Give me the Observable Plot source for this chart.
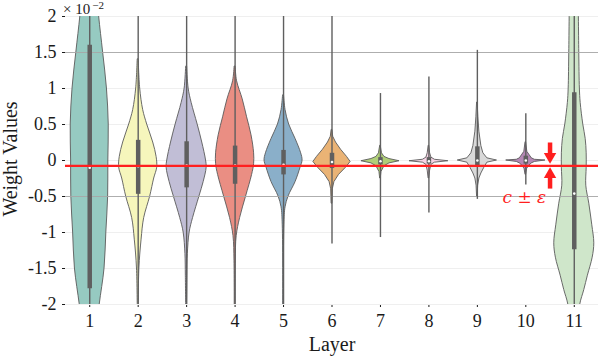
<!DOCTYPE html>
<html><head><meta charset="utf-8">
<script src="https://cdn.jsdelivr.net/npm/d3@7"></script>
<script src="https://cdn.jsdelivr.net/npm/@observablehq/plot@0.6"></script>
<style>
html,body{margin:0;padding:0;background:#fff;overflow:hidden}
#chart svg text.lbl { font-family: 'Liberation Serif', serif; fill: #1a1a1a; }
</style>
</head><body><div id="chart"></div>
<script>
// ---- data (values in units of 1e-2) ----
const layers = [1,2,3,4,5,6,7,8,9,10,11];
const palette = ["#8dd3c7","#ffffb3","#bebada","#fb8072","#80b1d3","#fdb462","#b3de69","#fccde5","#d9d9d9","#bc80bd","#ccebc5"];
// violin profiles: [value, relative density]
const profile1 = [[2.3,0.38],[2.0,0.47],[1.5,0.67],[1.0,0.86],[0.5,0.95],[0.0,0.93],[-0.5,0.92],[-1.0,0.83],[-1.5,0.74],[-2.0,0.5],[-2.3,0.38]];
const profile2 = [[1.4,0.025],[1.0,0.1],[0.7,0.25],[0.5,0.45],[0.25,0.75],[0.05,0.92],[-0.1,0.95],[-0.25,0.8],[-0.5,0.6],[-0.8,0.3],[-1.1,0.17],[-1.5,0.06],[-2.1,0.02]];
const profile3 = [[1.3,0.025],[1.0,0.1],[0.8,0.25],[0.5,0.55],[0.25,0.78],[0.0,0.97],[-0.1,1.0],[-0.3,0.85],[-0.5,0.64],[-0.8,0.32],[-1.0,0.15],[-1.3,0.06],[-1.6,0.04],[-2.1,0.02]];
const profile4 = [[1.3,0.025],[1.1,0.1],[0.85,0.38],[0.6,0.6],[0.35,0.82],[0.1,0.95],[-0.05,0.95],[-0.2,0.85],[-0.5,0.55],[-0.8,0.25],[-1.05,0.08],[-1.4,0.03],[-2.1,0.02]];
const profile5 = [[0.9,0.025],[0.7,0.1],[0.5,0.28],[0.3,0.6],[0.1,0.88],[0.0,0.95],[-0.1,0.85],[-0.3,0.6],[-0.5,0.25],[-0.65,0.1],[-0.9,0.04],[-2.1,0.02]];
const profile6 = [[0.42,0.02],[0.33,0.06],[0.25,0.2],[0.15,0.45],[0.05,0.75],[-0.02,0.93],[-0.1,0.7],[-0.2,0.35],[-0.3,0.12],[-0.4,0.04],[-0.6,0.02]];
const profile7 = [[0.2,0.015],[0.1,0.075],[0.05,0.2],[0.02,0.45],[-0.01,0.95],[-0.04,0.45],[-0.08,0.2],[-0.16,0.05],[-0.25,0.015]];
const profile8 = [[0.2,0.015],[0.1,0.06],[0.04,0.125],[0.01,0.3],[-0.01,0.97],[-0.03,0.3],[-0.06,0.125],[-0.14,0.06],[-0.25,0.015]];
const profile9 = [[0.8,0.015],[0.6,0.05],[0.4,0.1],[0.2,0.2],[0.1,0.3],[0.03,0.5],[0.0,0.98],[-0.03,0.5],[-0.1,0.35],[-0.18,0.2],[-0.25,0.1],[-0.35,0.04],[-0.5,0.015]];
const profile10 = [[0.25,0.015],[0.12,0.075],[0.07,0.2],[0.03,0.3],[0.01,0.45],[0.0,0.98],[-0.02,0.45],[-0.04,0.3],[-0.08,0.15],[-0.12,0.06],[-0.2,0.015]];
const profile11 = [[2.3,0.22],[1.5,0.25],[1.0,0.28],[0.8,0.32],[0.5,0.45],[0.3,0.57],[0.1,0.62],[-0.1,0.62],[-0.35,0.6],[-0.6,0.75],[-0.9,0.9],[-1.15,1.0],[-1.35,0.92],[-1.6,0.68],[-1.8,0.5],[-2.0,0.3],[-2.3,0.2]];
const profiles = [profile1,profile2,profile3,profile4,profile5,profile6,profile7,profile8,profile9,profile10,profile11];
const boxHigh = [1.6,0.28,0.26,0.2,0.14,0.1,0.04,0.04,0.19,0.06,0.94];
const boxLow = [-1.78,-0.47,-0.38,-0.33,-0.2,-0.11,-0.06,-0.05,-0.08,-0.05,-1.24];
const medians = [-0.1,-0.08,-0.07,-0.07,-0.06,-0.02,-0.01,-0.01,0.0,0.0,-0.46];
const whiskerHigh = [2.5,2.5,2.5,2.5,2.5,2.5,0.93,1.16,1.53,0.65,2.5];
const whiskerLow = [-2.5,-2.5,-2.5,-2.5,-2.5,-1.16,-1.07,-0.73,-0.54,-0.34,-2.5];
const yTicks = [-2,-1.5,-1,-0.5,0,0.5,1,1.5,2];
const yTickLabels = ["-2","-1.5","-1","-0.5","0","0.5","1","1.5","2"];
const majorGrid = [1.5,-0.5];
const thresholdC = [-0.075];
const arrowX = 10.5;
const arrowDown = [0.25, 0.054];   // shaft start, head centre
const arrowUp = [-0.39, -0.193];
const annotation = {x: 9.97, y: -0.52, text: "c ± ε"};

// ---- build ----
const halfMax = 0.413;
const fills = palette.map(c => { const h = d3.hsl(c); h.s *= 0.75; return h.formatHex(); });
const sharp = [false,false,false,false,false,true,true,true,true,true,false];
const rows = layers.map((l, i) => ({layer: l, q1: boxLow[i], q3: boxHigh[i], med: medians[i], lo: whiskerLow[i], hi: whiskerHigh[i]}));

const violinMarks = layers.map((l, i) => Plot.areaX(
  profiles[i].map(([v, d]) => ({layer: l, v, d})),
  {y: "v", x1: r => r.layer - r.d * halfMax, x2: r => r.layer + r.d * halfMax,
   fill: fills[i], stroke: "#5a5a5a", strokeWidth: 0.9, curve: sharp[i] ? "linear" : "catmull-rom", clip: true}
));

const plot = Plot.plot({
  width: 598, height: 358,
  marginLeft: 65, marginRight: 0, marginTop: 16, marginBottom: 54,
  style: "font-family: 'Liberation Serif', serif; font-size: 18px; background: white; color: #1a1a1a;",
  x: {domain: [0.5, 11.5], ticks: layers, tickFormat: d => String(d), tickSize: 3, tickPadding: 7, label: null},
  y: {domain: [-2, 2], ticks: yTicks, tickFormat: d => yTickLabels[yTicks.indexOf(d)], tickSize: 3, tickPadding: 6, label: null},
  marks: [
    Plot.ruleY(yTicks, {stroke: "#efefef", strokeWidth: 1}),
    ...violinMarks,
    Plot.ruleY(majorGrid, {stroke: "#a6a6a6", strokeWidth: 1, strokeOpacity: 0.9}),
    Plot.ruleX(rows, {x: "layer", y1: "lo", y2: "hi", stroke: "#5f5f5f", strokeWidth: 1.4, clip: true}),
    Plot.ruleX(rows, {x: "layer", y1: "q1", y2: "q3", stroke: "#5f5f5f", strokeWidth: 4.5, clip: true}),
    Plot.dot(rows, {x: "layer", y: "med", r: 1.3, fill: "white", stroke: null}),
    Plot.ruleY(thresholdC, {stroke: "#ff1f1f", strokeWidth: 2.2}),
    Plot.link([{a: arrowDown[0], b: arrowDown[1]}, {a: arrowUp[0], b: arrowUp[1]}],
      {x1: () => arrowX, x2: () => arrowX, y1: "a", y2: "b", stroke: "#ff1f1f", strokeWidth: 4.5}),
    Plot.dot([arrowDown[1]], {x: () => arrowX, y: d => d, symbol: "triangle", r: 4.6, fill: "#ff1f1f", stroke: null, rotate: 180}),
    Plot.dot([arrowUp[1]], {x: () => arrowX, y: d => d, symbol: "triangle", r: 4.6, fill: "#ff1f1f", stroke: null}),
    Plot.text([annotation], {x: "x", y: "y", text: "text", fill: "#ff1f1f", fontStyle: "italic", fontSize: 17, fontFamily: "'DejaVu Serif', serif"})
  ]
});

const svg = d3.select(plot);
svg.selectAll("text").filter(function() { return !this.closest('g[aria-label="text"]'); })
  .style("font-family", "'Liberation Serif', serif").style("font-size", "18px").style("fill", "#1a1a1a");
svg.append("text").attr("class", "lbl").attr("transform", "translate(17,159) rotate(-90)").attr("text-anchor", "middle")
  .style("font-size", "20px").text("Weight Values");
svg.append("text").attr("class", "lbl").attr("x", 332).attr("y", 351).attr("text-anchor", "middle")
  .style("font-size", "20px").text("Layer");
const mult = svg.append("text").attr("class", "lbl").attr("x", 63).attr("y", 14).attr("text-anchor", "start").style("font-size", "15px");
mult.append("tspan").text("× 10");
mult.append("tspan").attr("dx", 2).attr("dy", -5).style("font-size", "11px").text("−2");
document.getElementById("chart").appendChild(plot);
</script></body></html>
